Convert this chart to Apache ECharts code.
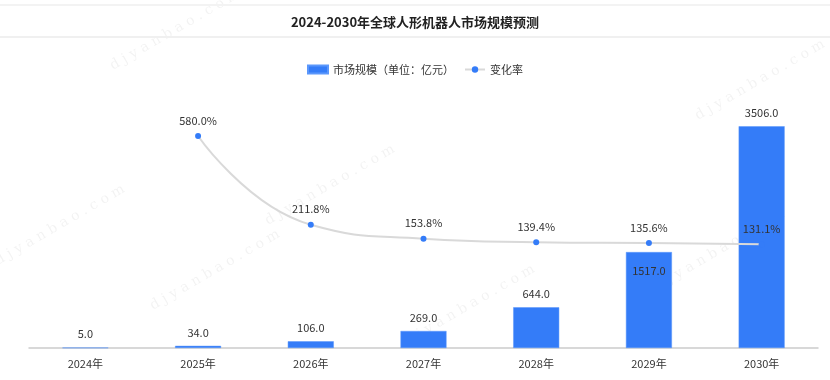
<!DOCTYPE html>
<html><head><meta charset="utf-8">
<script src="https://cdn.jsdelivr.net/npm/echarts@6/dist/echarts.min.js"></script>
<style>html,body{margin:0;padding:0;background:#fff}#c{width:830px;height:380px}</style>
</head><body><div id="c"></div>
<script>
var categories = ['2024年','2025年','2026年','2027年','2028年','2029年','2030年'];
var marketSize = [5.0, 34.0, 106.0, 269.0, 644.0, 1517.0, 3506.0];
var changeRate = [null, 580.0, 211.8, 153.8, 139.4, 135.6, 131.1];
var titleText = '2024-2030年全球人形机器人市场规模预测';
var barName = '市场规模（单位：亿元）';
var lineName = '变化率';

var font = '"Noto Sans CJK SC","Noto Sans",sans-serif';
var chart = echarts.init(document.getElementById('c'), null, {renderer:'canvas'});

var wm = [];
[[60,225],[215,270],[470,305],[760,80],[720,250],[330,185],[175,30]].forEach(function(p){
  wm.push({type:'text', x:p[0], y:p[1], rotation:Math.PI/6, z:-1, silent:true,
    style:{text:'d j y a n b a o . c o m', font:'14px "DejaVu Serif",serif', fill:'rgba(0,0,0,0.05)', align:'center', verticalAlign:'middle'}});
});

var barData = marketSize.map(function(v, i){
  if (i === 5) return {value:v, label:{position:'insideTop', distance:13}};
  return v;
});

chart.setOption({
  backgroundColor:'#fff',
  animation:false,
  title:{text:titleText, left:'center', top:11, textStyle:{fontFamily:font, fontSize:13, fontWeight:'bold', color:'#222'}},
  graphic: wm.concat([
    {type:'line', shape:{x1:0,y1:5,x2:830,y2:5}, style:{stroke:'#f3f3f3', lineWidth:2}, silent:true},
    {type:'line', shape:{x1:0,y1:37,x2:830,y2:37}, style:{stroke:'#f0f0f0', lineWidth:2}, silent:true}
  ]),
  legend:{top:59, left:'center', itemWidth:20, itemHeight:8, itemGap:10,
    textStyle:{fontFamily:font, fontSize:11, color:'#333'},
    data:[{name:barName, icon:'rect'}, {name:lineName}]},
  grid:{left:29, right:12, top:95, bottom:32},
  xAxis:{type:'category', data:categories,
    axisLine:{lineStyle:{color:'#ccc', width:1.5}}, axisTick:{show:false},
    axisLabel:{fontFamily:font, fontSize:11, color:'#333', margin:10}},
  yAxis:[
    {type:'value', min:0, max:4000, show:false, splitLine:{show:false}},
    {type:'value', min:-300, max:750, show:false, splitLine:{show:false}}
  ],
  series:[
    {name:barName, type:'bar', data:barData, barWidth:46, yAxisIndex:0,
      itemStyle:{color:'#347cf8', borderColor:'#5b97fb', borderWidth:0.5},
      label:{show:true, position:'top', distance:8, fontFamily:font, fontSize:11, color:'#333',
        formatter:function(p){return p.value.toFixed(1);}}},
    {name:lineName, type:'line', data:changeRate, yAxisIndex:1, smooth:true,
      symbol:'circle', symbolSize:6, z:5,
      lineStyle:{color:'#d9d9d9', width:2},
      itemStyle:{color:'#347cf8'},
      label:{show:true, position:'top', distance:7, fontFamily:font, fontSize:11, color:'#333',
        formatter:function(p){return p.value.toFixed(1)+'%';}}}
  ]
});
</script></body></html>
